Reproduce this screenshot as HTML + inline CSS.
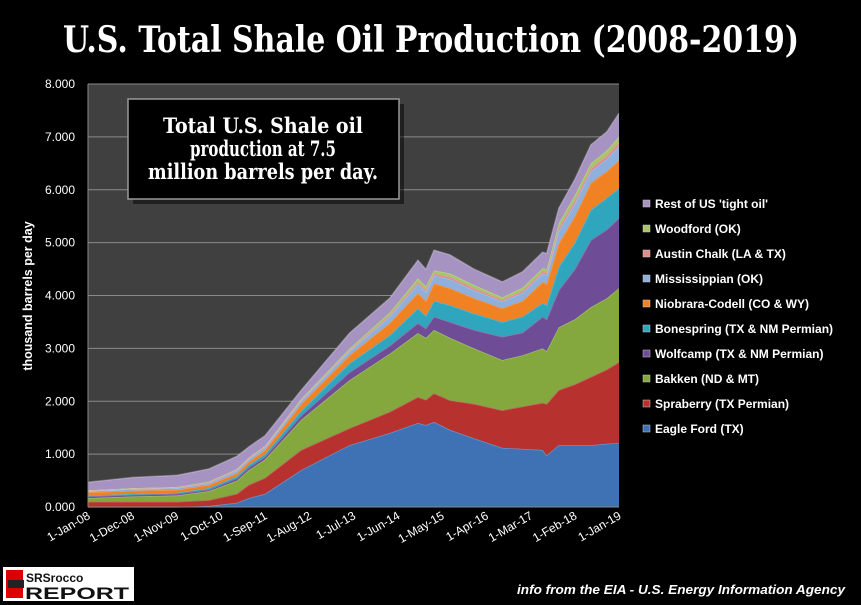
<!DOCTYPE html>
<html><head><meta charset="utf-8"><style>
html,body{margin:0;padding:0;background:#000;width:861px;height:605px;overflow:hidden}
svg{display:block}
text{font-family:"Liberation Sans",sans-serif}
text.serif{font-family:"DejaVu Serif","Liberation Serif",serif}
</style></head><body>
<svg id="c" width="861" height="605" viewBox="0 0 861 605">
<rect width="861" height="605" fill="#000"/>
<text class="serif" x="431" y="52" text-anchor="middle" fill="#fff" font-size="36" font-weight="bold" textLength="736" lengthAdjust="spacingAndGlyphs">U.S. Total Shale Oil Production (2008-2019)</text>
<rect x="88" y="84" width="531" height="423" fill="#404040"/>
<g id="grid"></g>
<g id="areas"></g>
<line x1="88" y1="84" x2="88" y2="507" stroke="#888"/>
<line x1="88" y1="507" x2="619" y2="507" stroke="#888"/>
<g id="yt"></g>
<g id="xt"></g>
<text transform="translate(32,296) rotate(-90)" text-anchor="middle" fill="#fff" font-size="12.5" font-weight="bold">thousand barrels per  day</text>
<rect x="133" y="104" width="271" height="100" fill="#000" opacity="0.5"/>
<rect x="128" y="99" width="271" height="100" fill="#000" stroke="#999" stroke-width="1.5"/>
<g fill="#fff" font-size="21" font-weight="bold" text-anchor="middle">
<text class="serif" x="263" y="133" textLength="200" lengthAdjust="spacingAndGlyphs">Total U.S. Shale oil</text>
<text class="serif" x="263" y="156" textLength="146" lengthAdjust="spacingAndGlyphs">production at 7.5</text>
<text class="serif" x="263" y="179" textLength="230" lengthAdjust="spacingAndGlyphs">million barrels per day.</text>
</g>
<g id="legend"></g>
<g>
<rect x="3" y="567" width="131" height="34" fill="#fff"/>
<rect x="6" y="570" width="17" height="28" fill="#d00"/>
<rect x="8" y="580" width="16" height="8" fill="#222"/>
<text x="26" y="582" font-size="12" font-weight="bold" fill="#111">SRSrocco</text>
<text x="25" y="599" font-size="17" font-weight="bold" fill="#111" textLength="104" lengthAdjust="spacingAndGlyphs">REPORT</text>
</g>
<text x="845" y="594" text-anchor="end" fill="#fff" font-size="13" font-weight="bold" font-style="italic" textLength="328" lengthAdjust="spacingAndGlyphs">info from the EIA - U.S. Energy Information Agency</text>
</svg>
<script>
const months=[0,11,22,30,37,40,44,53,65,75,82,84,86,90,96,103,108,113,114,117,121,125,129,132];
const eagleFord=[0,0,0,0.02,0.08,0.17,0.25,0.7,1.17,1.4,1.59,1.55,1.61,1.46,1.3,1.12,1.1,1.08,0.98,1.17,1.17,1.17,1.2,1.21];
const spraberry=[0.1,0.1,0.1,0.11,0.17,0.25,0.3,0.38,0.32,0.4,0.49,0.48,0.54,0.56,0.65,0.71,0.8,0.89,0.97,1.04,1.15,1.29,1.4,1.53];
const bakken=[0.07,0.1,0.12,0.17,0.25,0.28,0.35,0.57,0.91,1.1,1.21,1.17,1.2,1.18,1.05,0.95,0.97,1.03,1.0,1.19,1.23,1.32,1.35,1.4];
const wolfcamp=[0.03,0.03,0.03,0.03,0.04,0.05,0.05,0.08,0.15,0.15,0.19,0.18,0.25,0.3,0.35,0.44,0.43,0.6,0.6,0.7,0.95,1.27,1.3,1.33];
const bonespring=[0.02,0.02,0.02,0.03,0.04,0.05,0.05,0.09,0.17,0.2,0.28,0.24,0.3,0.32,0.31,0.28,0.3,0.26,0.27,0.44,0.5,0.57,0.6,0.56];
const niobrara=[0.06,0.06,0.06,0.06,0.06,0.06,0.08,0.13,0.15,0.23,0.29,0.28,0.33,0.32,0.29,0.26,0.3,0.4,0.4,0.45,0.5,0.51,0.5,0.53];
const mississippian=[0.02,0.03,0.03,0.03,0.05,0.05,0.05,0.06,0.08,0.12,0.17,0.17,0.15,0.17,0.15,0.13,0.15,0.16,0.17,0.23,0.24,0.22,0.24,0.27];
const austinChalk=[0.01,0.01,0.01,0.02,0.02,0.02,0.02,0.02,0.02,0.03,0.04,0.04,0.04,0.04,0.04,0.03,0.04,0.04,0.04,0.06,0.06,0.06,0.06,0.07];
const woodford=[0.01,0.01,0.01,0.01,0.01,0.01,0.01,0.02,0.03,0.05,0.07,0.07,0.06,0.07,0.06,0.05,0.06,0.06,0.07,0.09,0.1,0.09,0.1,0.11];
const restOfUS=[0.15,0.2,0.22,0.24,0.24,0.2,0.19,0.16,0.29,0.27,0.34,0.32,0.38,0.35,0.3,0.29,0.3,0.3,0.3,0.28,0.3,0.35,0.35,0.44];
const yTicks=[0,1000,2000,3000,4000,5000,6000,7000,8000];
const yTickLabels=["0.000","1.000","2.000","3.000","4.000","5.000","6.000","7.000","8.000"];
const xTickMonths=[0,11,22,33,44,55,66,77,88,99,110,121,132];
const xTickLabels=["1-Jan-08","1-Dec-08","1-Nov-09","1-Oct-10","1-Sep-11","1-Aug-12","1-Jul-13","1-Jun-14","1-May-15","1-Apr-16","1-Mar-17","1-Feb-18","1-Jan-19"];
const seriesNames=["Eagle Ford (TX)","Spraberry (TX Permian)","Bakken (ND & MT)","Wolfcamp (TX & NM Permian)","Bonespring (TX & NM Permian)","Niobrara-Codell (CO & WY)","Mississippian (OK)","Austin Chalk (LA & TX)","Woodford (OK)","Rest of US 'tight oil'"];
const series=[eagleFord,spraberry,bakken,wolfcamp,bonespring,niobrara,mississippian,austinChalk,woodford,restOfUS];
const colors=["#3f72b4","#b7312e","#84a83e","#6e4d96","#2fa5be","#f08224","#8fb0dd","#e08c8a","#a9c56c","#a693c2"];
const NS="http://www.w3.org/2000/svg";
const X0=88,X1=619,Y0=507,Y1=84;
const xs=m=>X0+m/132*(X1-X0);
const ys=v=>Y0-v/8*(Y0-Y1);
function mk(t,a,p){const e=document.createElementNS(NS,t);for(const k in a)e.setAttribute(k,a[k]);p.appendChild(e);return e;}
const grid=document.getElementById('grid'),yt=document.getElementById('yt'),xt=document.getElementById('xt');
yTicks.forEach((v,i)=>{const y=ys(v/1000);
 if(v>0){const l=mk('line',{x1:X0,x2:X1,y1:y,y2:y,stroke:'#8a8a8a','stroke-width':1},grid);
 
 }
 const t=mk('text',{x:75,y:y+4,'text-anchor':'end',fill:'#fff','font-size':12},yt);t.textContent=yTickLabels[i];
 
 });
xTickMonths.forEach((m,i)=>{const x=xs(m)+3;const t=mk('text',{transform:`translate(${x},518) rotate(-30)`,'text-anchor':'end',fill:'#fff','font-size':12},xt);t.textContent=xTickLabels[i];
 
 });
const areas=document.getElementById('areas');
let base=months.map(()=>0);
series.forEach((s,k)=>{const top=base.map((b,i)=>b+s[i]);
 let d='M'+months.map((m,i)=>xs(m).toFixed(1)+','+ys(top[i]).toFixed(1)).join('L');
 for(let i=months.length-1;i>=0;i--)d+='L'+xs(months[i]).toFixed(1)+','+ys(base[i]).toFixed(1);
 d+='Z';
 const p=mk('path',{d:d,fill:colors[k]},areas);
 
 
 const e=mk('path',{d:'M'+months.map((m,i)=>xs(m).toFixed(1)+','+ys(top[i]).toFixed(1)).join('L'),fill:'none',stroke:'#fff','stroke-opacity':0.25,'stroke-width':1.5},areas);
 
 
 base=top;});
const lg=document.getElementById('legend');
for(let j=0;j<10;j++){const k=9-j;const y=204+j*25;
 const g=mk('g',{},lg);
 
 
 mk('rect',{x:643,y:y-4,width:7,height:7,fill:colors[k],stroke:'#ccc','stroke-width':0.5},g);
 const t=mk('text',{x:655,y:y+4,fill:'#fff','font-size':12,'font-weight':'bold'},g);t.textContent=seriesNames[k];}
</script>
</body></html>
